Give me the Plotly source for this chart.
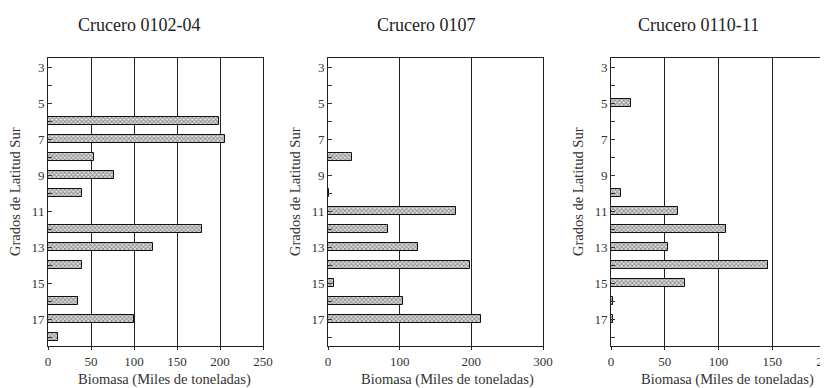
import plotly.graph_objects as go

latitudes = list(range(3, 19))
crucero_0102_04 = [0, 0, 0, 199, 206, 54, 77, 40, 0, 179, 122, 39, 0, 35, 100, 12]
crucero_0107 = [0, 0, 0, 0, 0, 34, 0, 1.5, 179, 84, 126, 198, 9, 105, 214, 0]
crucero_0110_11 = [0, 0, 18.5, 0, 0, 0, 0, 9.5, 62, 107, 53, 146, 69, 2, 2, 0]
titles = ["Crucero 0102-04", "Crucero 0107", "Crucero 0110-11"]
x_ranges = [(0, 250), (0, 300), (0, 200)]
x_dticks = [50, 100, 50]
y_tick_text = [str(v) if v % 2 == 1 else "" for v in latitudes]

OFF = 8  # page body margin
W, H = 828 - OFF, 388 - OFF
FONT = "'Liberation Serif', 'Times New Roman', 'DejaVu Serif', serif"
panels_px = [(48, 263), (328, 543), (611, 826)]
top_px, bot_px = 58, 346
title_cx = [139, 426, 698]
xtitle_cx = [164, 447, 727]


def px(x):
    return (x - OFF) / W


def py(y):
    return 1 - (y - OFF) / H


fig = go.Figure()
series = [crucero_0102_04, crucero_0107, crucero_0110_11]
for i, vals in enumerate(series):
    xa = "x" if i == 0 else f"x{i+1}"
    ya = "y" if i == 0 else f"y{i+1}"
    xs = [v if v > 0 else None for v in vals]
    fig.add_trace(go.Bar(
        x=xs, y=latitudes, orientation="h", xaxis=xa, yaxis=ya, width=0.45,
        marker=dict(color="#cfcfcf", line=dict(color="#111", width=1),
                    pattern=dict(shape="x", size=3, solidity=0.5,
                                 fgcolor="#3a3a3a", bgcolor="#e0e0e0")),
        showlegend=False, hoverinfo="skip"))

layout = dict(width=W, height=H, margin=dict(l=0, r=0, t=0, b=0, autoexpand=False),
              paper_bgcolor="white", plot_bgcolor="white",
              font=dict(family=FONT, size=13, color="#222"), bargap=0)
annotations = []
common = dict(xref="paper", yref="paper", showarrow=False, xanchor="center", yanchor="middle")
for i in range(3):
    sfx = "" if i == 0 else str(i + 1)
    x0, x1 = panels_px[i]
    layout["xaxis" + sfx] = dict(
        domain=[px(x0), px(x1)], range=list(x_ranges[i]), dtick=x_dticks[i],
        anchor="y" + sfx, showgrid=True, gridcolor="#222", gridwidth=1,
        showline=True, linecolor="#222", linewidth=1, mirror=True,
        ticks="outside", ticklen=3, tickcolor="#222", zeroline=False,
        ticklabeloverflow="allow",
        tickfont=dict(family=FONT, size=13, color="#333"), fixedrange=True)
    layout["yaxis" + sfx] = dict(
        domain=[py(bot_px), py(top_px)], range=[18.5, 2.5],
        anchor="x" + sfx, tickvals=latitudes, ticktext=y_tick_text,
        ticks="inside", ticklen=4, tickcolor="#333", showgrid=False,
        showline=True, linecolor="#222", linewidth=1, mirror=True, zeroline=False,
        tickfont=dict(family=FONT, size=13, color="#333"), fixedrange=True)
    annotations.append(dict(text=titles[i], x=px(title_cx[i]), y=py(25),
                            font=dict(family=FONT, size=18, color="#222"), **common))
    annotations.append(dict(text="Biomasa (Miles de toneladas)", x=px(xtitle_cx[i]), y=py(379),
                            font=dict(family=FONT, size=14.5, color="#333"), **common))
    annotations.append(dict(text="Grados de Latitud Sur", x=px(x0 - 33), y=py(192),
                            textangle=-90,
                            font=dict(family=FONT, size=14.5, color="#333"), **common))
layout["annotations"] = annotations
fig.update_layout(**layout)
fig.write_html("out.html")
